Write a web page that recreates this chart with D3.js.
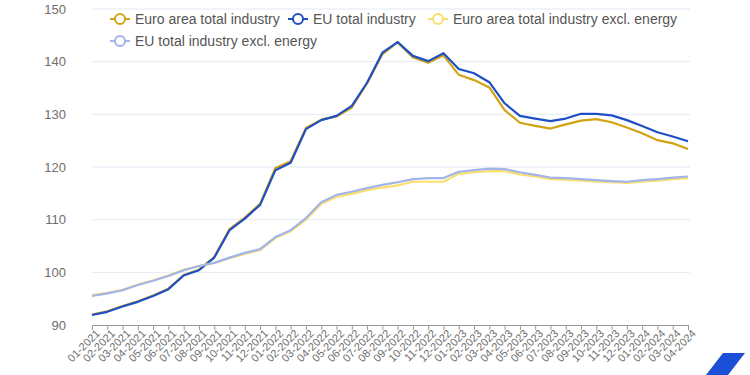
<!DOCTYPE html>
<html><head><meta charset="utf-8">
<script src="https://cdn.jsdelivr.net/npm/d3@7"></script>
<style>body{margin:0;background:#fff}svg{display:block}</style>
</head><body><svg id="c" width="750" height="375"></svg>
<script>
const months = ["01-2021","02-2021","03-2021","04-2021","05-2021","06-2021","07-2021","08-2021","09-2021","10-2021","11-2021","12-2021",
"01-2022","02-2022","03-2022","04-2022","05-2022","06-2022","07-2022","08-2022","09-2022","10-2022","11-2022","12-2022",
"01-2023","02-2023","03-2023","04-2023","05-2023","06-2023","07-2023","08-2023","09-2023","10-2023","11-2023","12-2023",
"01-2024","02-2024","03-2024","04-2024"];
const euroTotal = [92.0,92.6,93.6,94.5,95.6,96.9,99.5,100.5,102.9,108.2,110.4,113.0,119.8,121.1,127.4,129.0,129.6,131.3,135.9,141.4,143.7,140.8,139.8,141.2,137.5,136.5,135.1,130.8,128.4,127.8,127.3,128.1,128.8,129.1,128.5,127.5,126.4,125.1,124.5,123.4];
const euTotal = [91.9,92.5,93.5,94.4,95.5,96.8,99.4,100.4,102.8,108.0,110.2,112.8,119.4,120.8,127.2,128.9,129.7,131.6,136.0,141.7,143.7,141.1,140.1,141.6,138.6,137.8,136.1,132.1,129.7,129.2,128.7,129.2,130.1,130.1,129.8,128.9,127.8,126.6,125.8,124.9];
const euroExcl = [95.7,96.1,96.7,97.7,98.5,99.4,100.5,101.2,101.8,102.7,103.5,104.2,106.5,107.8,110.0,113.0,114.3,114.9,115.6,116.1,116.5,117.2,117.2,117.2,118.7,119.0,119.2,119.2,118.6,118.2,117.7,117.6,117.4,117.2,117.1,117.0,117.2,117.4,117.7,117.9];
const euExcl = [95.5,96.0,96.6,97.6,98.4,99.3,100.4,101.2,101.8,102.8,103.7,104.4,106.7,108.0,110.3,113.3,114.7,115.3,116.0,116.6,117.1,117.7,117.9,117.9,119.1,119.4,119.7,119.6,119.0,118.5,118.0,117.9,117.7,117.5,117.3,117.2,117.5,117.7,118.0,118.2];
const seriesNames = ["Euro area total industry","EU total industry","Euro area total industry excl. energy","EU total industry excl. energy"];
const seriesColors = ["#d0a312","#1f4fc6","#fbdf6e","#a2b4ea"];
const yTicks = [90,100,110,120,130,140,150];

const seriesData = [euroTotal, euTotal, euroExcl, euExcl];
const svg = d3.select("#c");
const font = "'Liberation Sans', Arial, sans-serif";
const x = d3.scalePoint().domain(months).range([92, 688]);
const y = d3.scaleLinear().domain([90, 150]).range([325, 9]);

// grid
svg.append("g").selectAll("line").data(yTicks.filter(d => d > 90)).join("line")
  .attr("x1", 92).attr("x2", 690).attr("y1", d => y(d)).attr("y2", d => y(d))
  .attr("stroke", "#e3e9f4").attr("stroke-width", 1);

// y labels
svg.append("g").selectAll("text").data(yTicks).join("text")
  .attr("x", 66).attr("y", d => y(d)).attr("dy", "0.35em").attr("text-anchor", "end")
  .attr("font-family", font).attr("font-size", 13).attr("fill", "#6e6e6e").text(d => d);

// x axis
const xa = svg.append("g").attr("transform", "translate(0,325)")
  .call(d3.axisBottom(x).tickSize(5).tickSizeOuter(0));
xa.select(".domain").attr("stroke", "#999");
xa.selectAll(".tick line").attr("stroke", "#999");
xa.selectAll(".tick text").attr("font-family", font).attr("font-size", 11).attr("fill", "#6e6e6e")
  .attr("text-anchor", "end").attr("transform", "translate(4,5) rotate(-45)").attr("dy", "0.35em").attr("y", 2).attr("x", 0);

// lines
const line = d3.line().x((d, i) => x(months[i])).y(d => y(d));
svg.append("g").selectAll("path").data(seriesData).join("path")
  .attr("d", line).attr("fill", "none")
  .attr("stroke", (d, i) => seriesColors[i]).attr("stroke-width", 2.2)
  .attr("stroke-linejoin", "round");

// legend
const legPos = [[110, 19], [288, 19], [428, 19], [110, 41]];
const lg = svg.append("g").selectAll("g").data(seriesNames).join("g")
  .attr("transform", (d, i) => `translate(${legPos[i][0]},${legPos[i][1]})`);
lg.append("line").attr("x1", 0).attr("x2", 20).attr("stroke", (d, i) => seriesColors[i]).attr("stroke-width", 2);
lg.append("circle").attr("cx", 10).attr("r", 5).attr("fill", "#fff").attr("stroke", (d, i) => seriesColors[i]).attr("stroke-width", 2);
lg.append("text").attr("x", 25).attr("dy", "0.35em").attr("font-family", font).attr("font-size", 14)
  .attr("fill", "#555").text(d => d);

// logo shape
svg.append("path").attr("d", "M723,353L745,353L728,375L706,375Z").attr("fill", "#1a4fd6");
</script></body></html>
